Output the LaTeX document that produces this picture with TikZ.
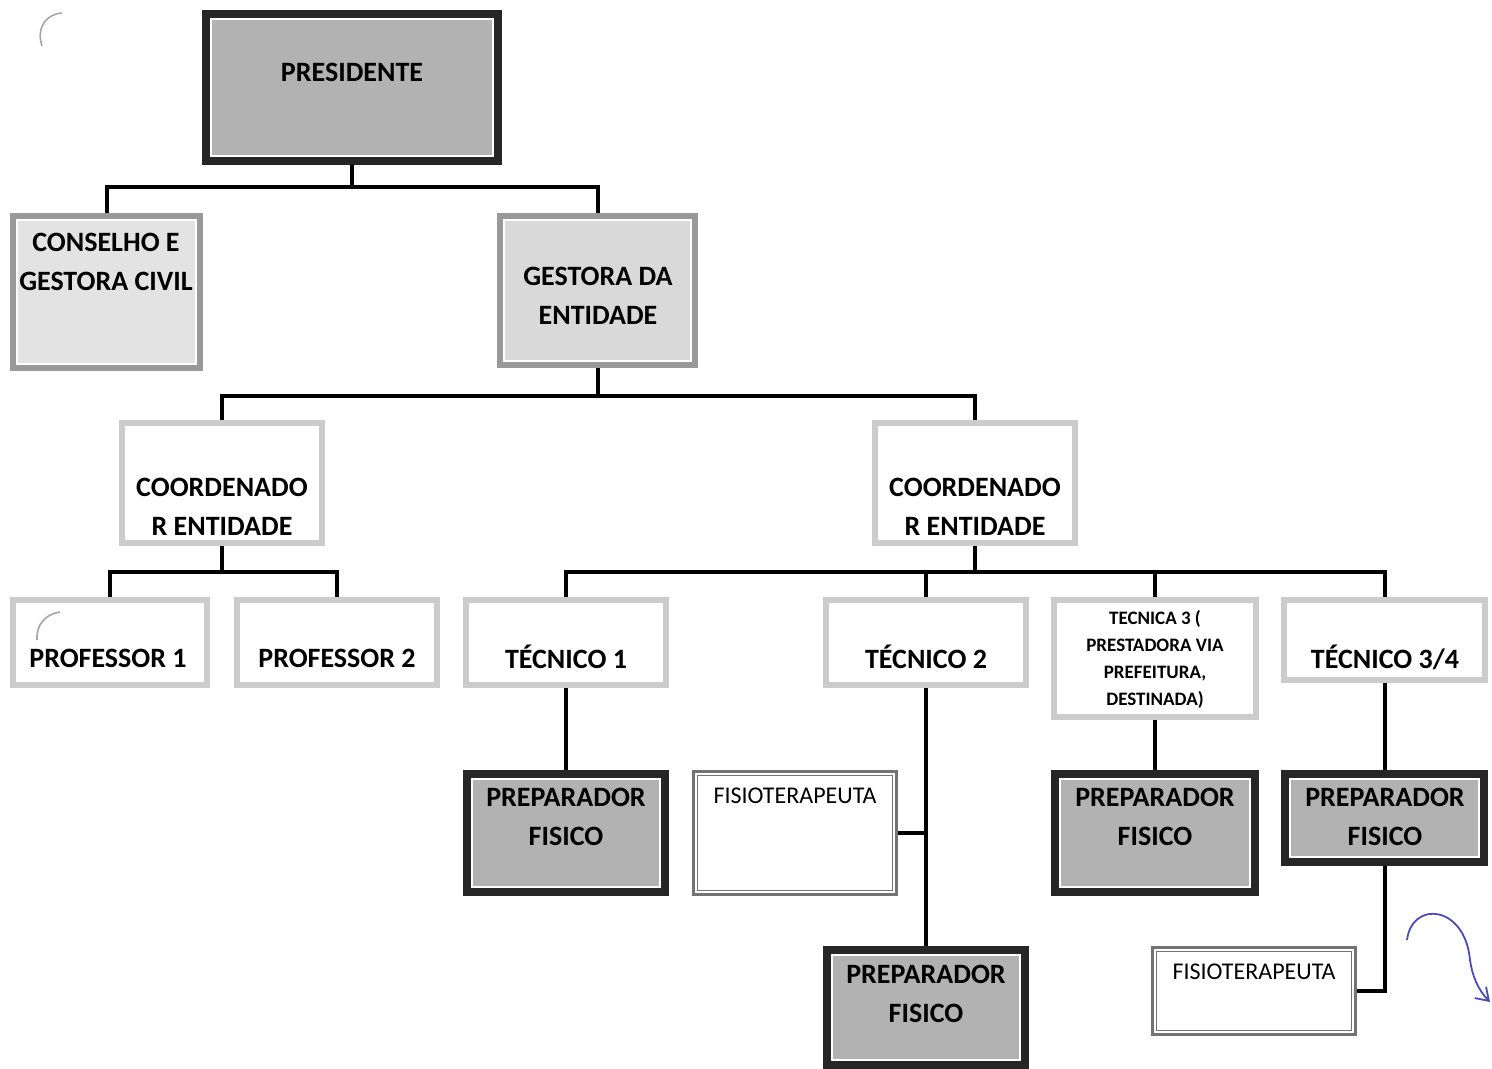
\documentclass[tikz,border=0pt]{standalone}
\usepackage{fontspec}
\setmainfont{Carlito}
\usepackage{tikz}
\usetikzlibrary{calc}
\usetikzlibrary{arrows.meta}
\tikzstyle{darkbox}=[rectangle,draw=black!85,line width=4pt,fill=black!30,inner sep=0pt]
\tikzstyle{graybox}=[rectangle,draw=black!40,line width=3pt,fill=black!15,inner sep=0pt]
\tikzstyle{lightbox}=[rectangle,draw=black!20,line width=3pt,fill=white,inner sep=0pt]
\tikzstyle{fisiobox}=[rectangle,draw=black!55,line width=3pt,fill=white,inner sep=0pt]
\tikzstyle{txt}=[font=\fontsize{14}{19.5}\selectfont\bfseries,align=center,inner sep=0pt]
\tikzstyle{conn}=[line width=2pt,black]

\begin{document}
\begin{tikzpicture}[x=0.5pt,y=-0.5pt]
\useasboundingbox (0,0) rectangle (1492,1069);

%top
\node[darkbox,minimum width=146pt,minimum height=73.5pt] (pres) at (352,87.5) {};
\node[graybox,fill=black!11,minimum width=93.5pt,minimum height=76pt] (cons) at (106.5,292) {};
\node[graybox,minimum width=97.5pt,minimum height=74.5pt] (gest) at (597.5,290.5) {};

%coordenadores
\node[lightbox,minimum width=100pt,minimum height=60pt] (coordL) at (222,483) {};
\node[lightbox,minimum width=100pt,minimum height=60pt] (coordR) at (975,483) {};

%professores e tecnicos
\node[lightbox,minimum width=97pt,minimum height=42.5pt] (prof1) at (110,642.5) {};
\node[lightbox,minimum width=100pt,minimum height=42.5pt] (prof2) at (337,642.5) {};
\node[lightbox,minimum width=100pt,minimum height=42.5pt] (tec1) at (566,642.5) {};
\node[lightbox,minimum width=100pt,minimum height=42.5pt] (tec2) at (926,642.5) {};
\node[lightbox,minimum width=101pt,minimum height=58.5pt] (tec3) at (1155,658.5) {};
\node[lightbox,minimum width=100.5pt,minimum height=40pt] (tec4) at (1384.5,640) {};

%preparadores e fisios
\node[darkbox,minimum width=99pt,minimum height=59pt] (prep1) at (566,833) {};
\node[fisiobox,minimum width=100pt,minimum height=60pt] (fisio1) at (795,833) {};
\node[darkbox,minimum width=99pt,minimum height=57.5pt] (prep2) at (926,1007.5) {};
\node[darkbox,minimum width=100pt,minimum height=59pt] (prep3) at (1155,833) {};
\node[darkbox,minimum width=99.5pt,minimum height=44pt] (prep4) at (1384.5,818) {};
\node[fisiobox,minimum width=100pt,minimum height=42pt] (fisio2) at (1254,991) {};

%inner white frames
\foreach \n/\s in {pres/9,prep1/9,prep2/9,prep3/9,prep4/9,cons/7,gest/7} {
\draw[white,line width=1pt] ([shift={(\s,-\s)}]\n.south west) rectangle ([shift={(-\s,\s)}]\n.north east);
}
\foreach \n in {fisio1,fisio2} {
\draw[white,line width=0.7pt] ([shift={(4,-4)}]\n.south west) rectangle ([shift={(-4,4)}]\n.north east);
}

%texts
\node[txt] (presT) at (352,72) {PRESIDENTE};
\node[txt] (consT) at (106,262) {CONSELHO E\\GESTORA CIVIL};
\node[txt] (gestT) at (598,296) {GESTORA DA\\ENTIDADE};
\node[txt] (coordLT) at (222,507) {COORDENADO\\R ENTIDADE};
\node[txt] (coordRT) at (975,507) {COORDENADO\\R ENTIDADE};
\node[txt] (prof1T) at (108,658) {PROFESSOR 1};
\node[txt] (prof2T) at (337,658) {PROFESSOR 2};
\node[txt] (tec1T) at (566,657) {TÉCNICO 1};
\node[txt] (tec2T) at (926,657) {TÉCNICO 2};
\node[txt,font=\fontsize{9.5}{13.5}\selectfont\bfseries] (tec3T) at (1155,659) {TECNICA 3 (\\PRESTADORA VIA\\PREFEITURA,\\DESTINADA)};
\node[txt] (tec4T) at (1385,657) {TÉCNICO 3/4};
\node[txt] (prep1T) at (566,817) {PREPARADOR\\FISICO};
\node[txt] (prep2T) at (926,994) {PREPARADOR\\FISICO};
\node[txt] (prep3T) at (1155,817) {PREPARADOR\\FISICO};
\node[txt] (prep4T) at (1385,817) {PREPARADOR\\FISICO};
\node[txt,font=\fontsize{12}{14}\selectfont] (fisio1T) at (795,796) {FISIOTERAPEUTA};
\node[txt,font=\fontsize{12}{14}\selectfont] (fisio2T) at (1254,972) {FISIOTERAPEUTA};

%connectors
\coordinate (j1) at (352,187);
\coordinate (j2) at (597.5,396);
\coordinate (j3) at (222,572);
\coordinate (j4) at (975,572);
\coordinate (j5) at (926,833);
\draw[conn] (pres.south) -- (j1);
\draw[conn] (cons.north) |- (j1) -| (gest.north);
\draw[conn] (gest.south) -- (j2);
\draw[conn] (coordL.north) |- (j2) -| (coordR.north);
\draw[conn] (coordL.south) -- (j3);
\draw[conn] (prof1.north) |- (j3) -| (prof2.north);
\draw[conn] (coordR.south) -- (j4);
\draw[conn] (tec1.north) |- (j4) -| (tec4.north);
\draw[conn] (tec2.north) -- (tec2.north |- j4);
\draw[conn] (tec3.north) -- (tec3.north |- j4);
\draw[conn] (tec1.south) -- (prep1.north);
\draw[conn] (tec2.south) -- (prep2.north);
\draw[conn] (fisio1.east) -- (j5);
\draw[conn] (tec3.south) -- (prep3.north);
\draw[conn] (tec4.south) -- (prep4.north);
\draw[conn] (prep4.south) |- (fisio2.east);

%pen marks
\draw[black!35,line width=0.8pt] (62,13) .. controls (46,14) and (36,28) .. (42,46);
\draw[black!35,line width=0.8pt] (60,612) .. controls (46,614) and (36,624) .. (37,640);
\draw[blue!60!black!70,line width=0.9pt,-{Straight Barb[length=6pt,width=8pt]}] (1407,940) .. controls (1412,900) and (1465,905) .. (1470,960) .. controls (1472,975) and (1478,990) .. (1490,1002);
\end{tikzpicture}
\end{document}
